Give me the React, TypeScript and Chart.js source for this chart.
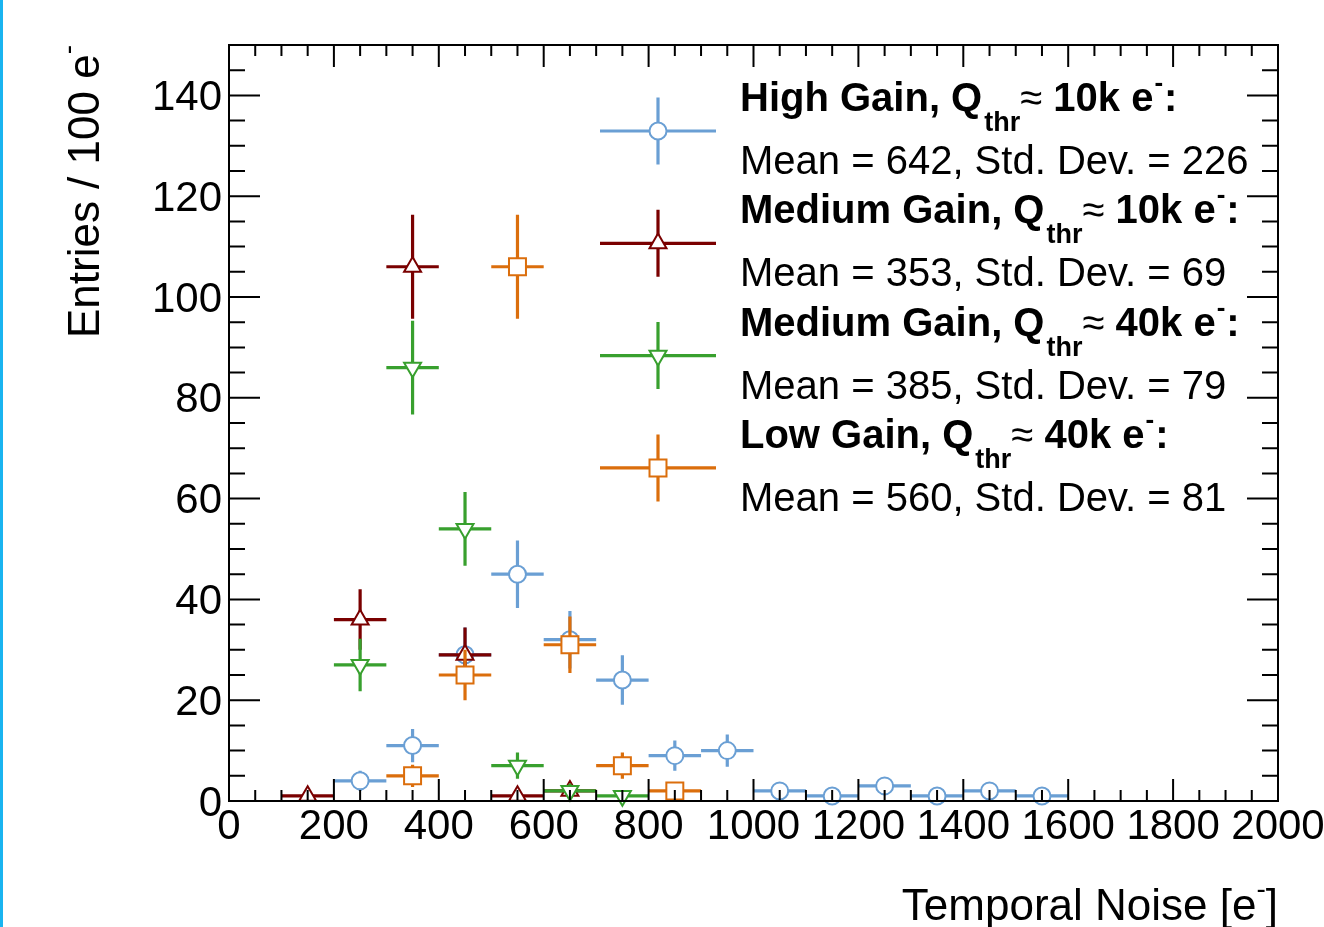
import React, { useEffect, useRef } from "react";
import { Chart, registerables } from "chart.js";

Chart.register(...registerables);

// ---------- data ----------
const BIN_HALF_WIDTH = 50;

const highGainX = [250, 350, 450, 550, 650, 750, 850, 950, 1050, 1150, 1250, 1350, 1450, 1550];
const highGainY = [4, 11, 29, 45, 32, 24, 9, 10, 2, 1, 3, 1, 2, 1];
const highGainErr = [2.0, 3.3, 5.4, 6.7, 5.7, 4.9, 3.0, 3.2, 1.4, 1.0, 1.7, 1.0, 1.4, 1.0];

const medium10kX = [150, 250, 350, 450, 550, 650];
const medium10kY = [1, 36, 106, 29, 1, 2];
const medium10kErr = [1.0, 6.0, 10.3, 5.4, 1.0, 1.4];

const medium40kX = [250, 350, 450, 550, 650, 750];
const medium40kY = [27, 86, 54, 7, 2, 1];
const medium40kErr = [5.2, 9.3, 7.3, 2.6, 1.4, 1.0];

const low40kX = [350, 450, 550, 650, 750, 850];
const low40kY = [5, 25, 106, 31, 7, 2];
const low40kErr = [2.2, 5.0, 10.3, 5.6, 2.6, 1.4];

const legendTitles = ["High Gain, Q", "Medium Gain, Q", "Medium Gain, Q", "Low Gain, Q"];
const legendThresholds = ["10k e", "10k e", "40k e", "40k e"];
const legendStats = [
  "Mean = 642, Std. Dev. = 226",
  "Mean = 353, Std. Dev. = 69",
  "Mean = 385, Std. Dev. = 79",
  "Mean = 560, Std. Dev. = 81",
];

const xTitle = "Temporal Noise [e";
const yTitle = "Entries / 100 e";

const X_MIN = 0, X_MAX = 2000, X_STEP = 200, X_MINOR = 50;
const Y_MIN = 0, Y_MAX = 150, Y_STEP = 20, Y_MINOR = 5;

// ---------- styles ----------
const FONT = "'Liberation Sans', Arial, Helvetica, sans-serif";
const C_BLUE = "#6a9fd4";
const C_RED = "#7a0000";
const C_GREEN = "#38a02e";
const C_ORANGE = "#db6e0c";

const seriesStyles = [
  { color: C_BLUE, style: "circle", radius: 8.5, rotation: 0 },
  { color: C_RED, style: "triangle", radius: 9.8, rotation: 0 },
  { color: C_GREEN, style: "triangle", radius: 9.8, rotation: 180 },
  { color: C_ORANGE, style: "rect", radius: 12, rotation: 0 },
];

function makeDataset(label: string, xs: number[], ys: number[], errs: number[], idx: number) {
  const s = seriesStyles[idx];
  return {
    label,
    data: xs.map((x, i) => ({ x, y: ys[i] })),
    errors: errs,
    borderColor: s.color,
    backgroundColor: "#ffffff",
    pointBackgroundColor: "#ffffff",
    pointBorderColor: s.color,
    pointBorderWidth: 2,
    pointStyle: s.style,
    pointRadius: s.radius,
    pointHoverRadius: s.radius,
    pointRotation: s.rotation,
    showLine: false,
    clip: false,
    order: 4 - idx,
  };
}

const errorBarPlugin = {
  id: "errorBars",
  beforeDatasetDraw(chart: any, args: any) {
    const ds = chart.data.datasets[args.index];
    const xs = chart.scales.x;
    const ys = chart.scales.y;
    const ctx = chart.ctx;
    const a = chart.chartArea;
    ctx.save();
    ctx.beginPath();
    ctx.rect(a.left, a.top, a.right - a.left, a.bottom - a.top);
    ctx.clip();
    ctx.strokeStyle = ds.borderColor;
    ctx.lineWidth = 3.2;
    ds.data.forEach((p: any, i: number) => {
      const e = ds.errors[i];
      const px = xs.getPixelForValue(p.x);
      const py = ys.getPixelForValue(p.y);
      const xl = xs.getPixelForValue(p.x - BIN_HALF_WIDTH);
      const xr = xs.getPixelForValue(p.x + BIN_HALF_WIDTH);
      const yt = ys.getPixelForValue(p.y + e);
      const yb = ys.getPixelForValue(p.y - e);
      ctx.beginPath();
      ctx.moveTo(xl, py);
      ctx.lineTo(xr, py);
      ctx.moveTo(px, yt);
      ctx.lineTo(px, yb);
      ctx.stroke();
    });
    ctx.restore();
  },
};

function drawMarker(ctx: CanvasRenderingContext2D, style: string, x: number, y: number, r: number, rot: number) {
  ctx.beginPath();
  if (style === "circle") {
    ctx.arc(x, y, r, 0, Math.PI * 2);
  } else if (style === "rect") {
    const s = r * Math.SQRT1_2;
    ctx.rect(x - s, y - s, 2 * s, 2 * s);
  } else {
    let rad = (rot * Math.PI) / 180;
    for (let k = 0; k < 3; k++) {
      const vx = x + Math.sin(rad) * r;
      const vy = y - Math.cos(rad) * r;
      if (k === 0) ctx.moveTo(vx, vy);
      else ctx.lineTo(vx, vy);
      rad += (2 * Math.PI) / 3;
    }
    ctx.closePath();
  }
  ctx.fill();
  ctx.stroke();
}

const framePlugin = {
  id: "rootFrame",
  afterDraw(chart: any) {
    const ctx: CanvasRenderingContext2D = chart.ctx;
    const a = chart.chartArea;
    const xs = chart.scales.x;
    const ys = chart.scales.y;
    ctx.save();
    ctx.strokeStyle = "#000";
    ctx.lineWidth = 2;
    ctx.strokeRect(a.left, a.top, a.right - a.left, a.bottom - a.top);

    // ticks inside the frame on all four sides
    ctx.beginPath();
    for (let v = X_MIN; v <= X_MAX; v += X_MINOR) {
      const px = xs.getPixelForValue(v);
      const len = v % X_STEP === 0 ? 22 : 11;
      ctx.moveTo(px, a.bottom);
      ctx.lineTo(px, a.bottom - len);
      ctx.moveTo(px, a.top);
      ctx.lineTo(px, a.top + len);
    }
    for (let v = Y_MIN; v <= Y_MAX; v += Y_MINOR) {
      const py = ys.getPixelForValue(v);
      const len = v % Y_STEP === 0 ? 31 : 16;
      ctx.moveTo(a.left, py);
      ctx.lineTo(a.left + len, py);
      ctx.moveTo(a.right, py);
      ctx.lineTo(a.right - len, py);
    }
    ctx.stroke();

    ctx.fillStyle = "#000";
    ctx.textBaseline = "alphabetic";
    ctx.textAlign = "left";

    // x axis title
    ctx.font = `44px ${FONT}`;
    const w1 = ctx.measureText(xTitle).width;
    ctx.font = `28px ${FONT}`;
    const wSup = ctx.measureText("-").width;
    ctx.font = `44px ${FONT}`;
    const w3 = ctx.measureText("]").width;
    let sx = a.right - (w1 + wSup + w3);
    const xBase = 920;
    ctx.fillText(xTitle, sx, xBase);
    sx += w1;
    ctx.font = `28px ${FONT}`;
    ctx.fillText("-", sx, xBase - 22);
    sx += wSup;
    ctx.font = `44px ${FONT}`;
    ctx.fillText("]", sx, xBase);

    // y axis title (rotated)
    ctx.save();
    ctx.translate(99, a.top);
    ctx.rotate(-Math.PI / 2);
    ctx.font = `44px ${FONT}`;
    const yw = ctx.measureText(yTitle).width;
    ctx.font = `28px ${FONT}`;
    const yws = ctx.measureText("-").width;
    ctx.font = `44px ${FONT}`;
    ctx.fillText(yTitle, -(yw + yws), 0);
    ctx.font = `28px ${FONT}`;
    ctx.fillText("-", -yws, -22);
    ctx.restore();

    // legend
    const rowStep = 112.3;
    for (let k = 0; k < 4; k++) {
      const s = seriesStyles[k];
      const my = 131 + k * rowStep;
      const mx = 658;
      ctx.strokeStyle = s.color;
      ctx.lineWidth = 3.2;
      ctx.beginPath();
      ctx.moveTo(600, my);
      ctx.lineTo(716, my);
      ctx.moveTo(mx, my - 33.5);
      ctx.lineTo(mx, my + 33.5);
      ctx.stroke();
      ctx.lineWidth = 2;
      ctx.fillStyle = "#fff";
      drawMarker(ctx, s.style, mx, my, s.radius, s.rotation);

      ctx.fillStyle = "#000";
      const tb = 111 + k * rowStep;
      let tx = 740;
      ctx.font = `bold 40px ${FONT}`;
      ctx.fillText(legendTitles[k], tx, tb);
      tx += ctx.measureText(legendTitles[k]).width + 2;
      ctx.font = `bold 27px ${FONT}`;
      ctx.fillText("thr", tx, tb + 20);
      tx += ctx.measureText("thr").width;
      ctx.font = `40px ${FONT}`;
      ctx.fillText("\u2248", tx, tb);
      tx += ctx.measureText("\u2248").width;
      ctx.font = `bold 40px ${FONT}`;
      const th = " " + legendThresholds[k];
      ctx.fillText(th, tx, tb);
      tx += ctx.measureText(th).width;
      ctx.font = `bold 26px ${FONT}`;
      ctx.fillText("-", tx + 1, tb - 20);
      tx += ctx.measureText("-").width + 2;
      ctx.font = `bold 40px ${FONT}`;
      ctx.fillText(":", tx, tb);

      ctx.font = `40px ${FONT}`;
      ctx.fillText(legendStats[k], 740, 174 + k * rowStep);
    }
    ctx.restore();
  },
};

export default function App() {
  const canvasRef = useRef<HTMLCanvasElement | null>(null);

  useEffect(() => {
    const canvas = canvasRef.current;
    if (!canvas) return;
    const datasets = [
      makeDataset("High Gain 10k", highGainX, highGainY, highGainErr, 0),
      makeDataset("Medium Gain 10k", medium10kX, medium10kY, medium10kErr, 1),
      makeDataset("Medium Gain 40k", medium40kX, medium40kY, medium40kErr, 2),
      makeDataset("Low Gain 40k", low40kX, low40kY, low40kErr, 3),
    ];
    const chart = new Chart(canvas, {
      type: "scatter",
      data: { datasets: datasets as any },
      options: {
        responsive: false,
        animation: false,
        devicePixelRatio: 1,
        layout: { padding: { left: 0, right: 46, top: 45, bottom: 0 } },
        plugins: { legend: { display: false }, tooltip: { enabled: false } },
        events: [],
        scales: {
          x: {
            type: "linear",
            min: X_MIN,
            max: X_MAX,
            grid: { display: false, drawTicks: false },
            border: { display: false },
            ticks: {
              stepSize: X_STEP,
              autoSkip: false,
              maxRotation: 0,
              padding: 1,
              color: "#000",
              font: { family: FONT, size: 42 },
              callback: (v: any) => String(v),
            },
            afterFit(scale: any) {
              scale.height = 126;
              scale.paddingLeft = 0;
              scale.paddingRight = 0;
            },
          },
          y: {
            type: "linear",
            min: Y_MIN,
            max: Y_MAX,
            grid: { display: false, drawTicks: false },
            border: { display: false },
            ticks: {
              stepSize: Y_STEP,
              includeBounds: false,
              padding: 7,
              labelOffset: 3,
              color: "#000",
              font: { family: FONT, size: 42 },
              callback: (v: any) => String(v),
            },
            afterFit(scale: any) {
              scale.width = 229;
              scale.paddingTop = 0;
              scale.paddingBottom = 0;
            },
          },
        },
      } as any,
      plugins: [errorBarPlugin, framePlugin],
    });
    return () => chart.destroy();
  }, []);

  return (
    <div style={{ position: "fixed", left: 0, top: 0, width: 1324, height: 927, background: "#fff" }}>
      <canvas ref={canvasRef} width={1324} height={927} style={{ display: "block" }} />
      <div style={{ position: "absolute", left: 0, top: 0, width: 3, height: 927, background: "#19b4f0" }} />
    </div>
  );
}
